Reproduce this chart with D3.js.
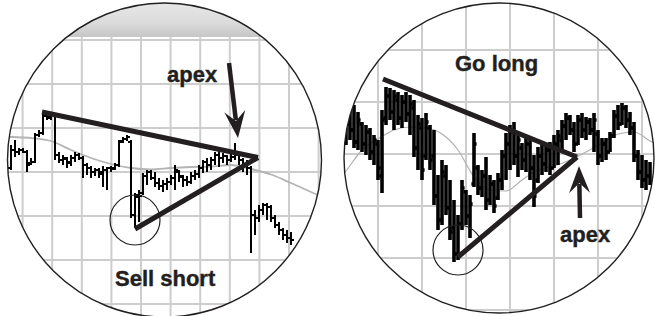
<!DOCTYPE html>
<html>
<head>
<meta charset="utf-8">
<script src="https://cdn.jsdelivr.net/npm/d3@7"></script>
<style>
  html, body { margin: 0; padding: 0; background: #fff; }
  svg { display: block; }
  text { font-family: "Liberation Sans", Arial, sans-serif; font-weight: bold; fill: #231f20; }
</style>
</head>
<body>
<div id="chart"></div>
<script>
// ---- left view: sell short (daily OHLC bars) ----
var leftOpen  = [76,85,84,85,84,78.5,79,92.5,93.5,102,101.5,102.5,82.5,80,80.5,79,81,82.5,81,77.5,76,74,75,74,75,76,76,77.5,89.5,90.5,89,52.5,61.5,63.5,72,74,71,68.5,67,68,69,71,74,71.5,70,69,72,73,76,79,77.5,80,82.5,81,82,80,81.5,82.5,80,77.5,76,52.5,51,55,57.5,56.5,51,47.5,45,42.5,41];
var leftHigh  = [87.5,90,86,86,85,81,93.5,95,104,103.5,104,103,84,82.5,81.5,82.5,84,83.5,82,78.5,77,76,76,77,76.5,77,78.5,90,91.5,92.5,90,63.5,65,73.5,75,75,74,71,70,71,72.5,77.5,75,72.5,72,74,75,77.5,80,81,81.5,84,85,83.5,82.5,83,88.5,83.5,81,80,77,55,57.5,58.5,58.5,57.5,52.5,49,46,45,44];
var leftLow   = [75,81.5,82.5,83.5,74,77.5,78.5,91.5,92.5,100,100,80,78.5,77.5,76,77,79,80,71,72.5,71,72,71,66.5,65,74,75,76.5,88.5,89.5,51,46,49,62.5,67.5,70,66.5,65,64,65,67.5,65,69,66.5,67,68,70,71,73.5,74,75,77.5,76.5,78.5,77.5,79,80,77.5,74,72.5,33.5,42.5,49,52.5,50,49,46,42.5,40,38.5,37.5];
var leftClose = [85,84,85,84,77.5,79,92.5,93.5,102.5,101,103,82.5,80,81,78.5,81,82.5,81,77.5,76,74,75,73,75,76,75.5,77.5,89,90.5,91.5,52.5,62.5,62,72,74,71,68.5,67,68,69,71,75,72,70,69,72,73,76,79,77.5,80,82.5,81,82,80,81.5,82.5,80,77.5,76,52.5,51,55,57.5,56.5,51,47.5,45,42.5,41,40];
// moving average, one value every 5 bars starting at bar -5
var leftAvg = [92,91.5,91,89.5,85,81,78,76,75.25,76,76.5,76.75,77.5,75.5,72.75,68.5,64,59.5];
var leftUpperLine = [[7.75, 104], [61.75, 81.25]];
var leftLowerLine = [[31, 45.5], [61.75, 81.25]];
var leftLowPoint = [31, 50];
var leftGridPrices = [8, 30, 52, 74, 96, 118, 140];

// ---- right view: go long ----
var rightOpen  = [92,98,95,89,98,88,94,84,88,72,101,112,104,110,101,109,103,106,86,96,82,96,82,62,50,72,56,46,33,48,64,52,68,76,66,72,60,68,61,70,82,88,94,82,86,80,88,76,70,82,78,85,76,88,90,97,101,95,88,100,95,99,95,93,82,88,84,92,102,98,106,100,96,82,74,70,72];
var rightHigh  = [102.5,105,107.5,104,99,97.5,96,92.5,90,105,116.5,116,115,114,112.5,114,112.5,110,102.5,101,103.5,97.5,95,72.5,80,77.5,70,60,52.5,70,65,62.5,93.5,77.5,75,81.5,72.5,70,73.5,85,93.5,97.5,99,93.5,88.5,91.5,90,82.5,86.5,88.5,87.5,89,92.5,95,100,103.5,102.5,99,102.5,103.5,101.5,101,103.5,95,91,91,94,105,107.5,108.5,107.5,104,99,85,82.5,80,79];
var rightLow   = [87.5,90,86,85,84,82.5,80,77.5,70,63.5,97.5,100,95,97.5,96,99,92.5,81.5,75,70,80,75,57.5,45,47.5,52.5,40,29,30,45,47.5,41,66.5,62.5,61.5,55,57.5,53.5,60,65,70,75,77.5,71.5,75,74,70,56.5,68.5,72.5,74,72.5,76,77.5,85,90,92.5,84,87.5,91,90,92.5,84,77.5,79,80,84,91,95,97.5,96,92.5,79,70,66,65,67.5];
var rightClose = [98,95,89,100,88,94,84,90,76,100,112,104,112,101,109,103,108,86,98,75,99,80,62,50,74,56,44,33,48,66,52,58,88,66,72,60,68,57,70,82,88,94,82,90,80,88,76,62,82,78,85,76,88,92,97,101,95,88,100,95,99,95,100,82,88,84,92,102,98,106,100,96,82,74,70,72,69];
// moving average, one value every 4 bars starting at bar -4
var rightAvg = [65,74.5,85,90.5,95,96.5,96,93,85,71.5,65,64.5,70,75,77,80,84,88.5,93,94,89.5,86];
var rightUpperLine = [[9.25, 120.5], [57.75, 81.5]];
var rightLowerLine = [[28, 31.5], [57.75, 81.5]];
var rightLowPoint = [28, 35];
var rightGridPrices = [5, 31, 57, 83, 109, 135, 161];

var width = 655, height = 316;
var ink = '#231f20';

var svg = d3.select('#chart').append('svg').attr('width', width).attr('height', height);
var defs = svg.append('defs');

var band = defs.append('linearGradient').attr('id', 'band').attr('x1', 0).attr('y1', 0).attr('x2', 0).attr('y2', 1);
band.append('stop').attr('offset', '0%').attr('stop-color', '#e8e8e8');
band.append('stop').attr('offset', '60%').attr('stop-color', '#dcdcdc');
band.append('stop').attr('offset', '100%').attr('stop-color', '#c6c6c6');

var y = d3.scaleLinear().domain([0, 160]).range([320, 0]);

function drawPanel(p) {
  var clipId = 'clip-' + p.name;
  defs.append('clipPath').attr('id', clipId)
    .append('circle').attr('cx', p.cx).attr('cy', p.cy).attr('r', p.r);

  var x = p.x;
  var g = svg.append('g').attr('clip-path', 'url(#' + clipId + ')');

  g.append('circle').attr('cx', p.cx).attr('cy', p.cy).attr('r', p.r).attr('fill', '#fff');

  // grid
  g.selectAll('line.gx').data(p.gridIdx).enter().append('line')
    .attr('x1', function(d) { return x(d); }).attr('x2', function(d) { return x(d); })
    .attr('y1', 0).attr('y2', height)
    .attr('stroke', '#cdcdcd').attr('stroke-width', 2);
  g.selectAll('line.gy').data(p.gridPrices).enter().append('line')
    .attr('x1', 0).attr('x2', width)
    .attr('y1', function(d) { return y(d); }).attr('y2', function(d) { return y(d); })
    .attr('stroke', '#cdcdcd').attr('stroke-width', 2);

  if (p.band) {
    g.append('rect').attr('x', p.cx - p.r).attr('y', 0).attr('width', 2 * p.r).attr('height', p.band)
      .attr('fill', 'url(#band)');
  }

  // moving average
  var avgLine = d3.line()
    .x(function(d, i) { return x(p.avgStart + i * p.avgStep); })
    .y(function(d) { return y(d); })
    .curve(d3.curveMonotoneX);
  g.append('path').attr('d', avgLine(p.avg))
    .attr('fill', 'none').attr('stroke', p.avgColor).attr('stroke-width', p.avgWidth);

  // bars
  var bars = g.selectAll('g.bar').data(p.high).enter().append('g');
  bars.append('line')
    .attr('x1', function(d, i) { return x(i); }).attr('x2', function(d, i) { return x(i); })
    .attr('y1', function(d, i) { return y(p.high[i]); }).attr('y2', function(d, i) { return y(p.low[i]); })
    .attr('stroke', '#000').attr('stroke-width', p.barWidth);
  bars.append('line')
    .attr('x1', function(d, i) { return x(i) - p.tick; }).attr('x2', function(d, i) { return x(i); })
    .attr('y1', function(d, i) { return y(p.open[i]); }).attr('y2', function(d, i) { return y(p.open[i]); })
    .attr('stroke', '#000').attr('stroke-width', p.tickWidth);
  bars.append('line')
    .attr('x1', function(d, i) { return x(i); }).attr('x2', function(d, i) { return x(i) + p.tick; })
    .attr('y1', function(d, i) { return y(p.close[i]); }).attr('y2', function(d, i) { return y(p.close[i]); })
    .attr('stroke', '#000').attr('stroke-width', p.tickWidth);

  // triangle
  var trend = d3.line().x(function(d) { return x(d[0]); }).y(function(d) { return y(d[1]); });
  [p.upper, p.lower].forEach(function(seg) {
    g.append('path').attr('d', trend(seg))
      .attr('stroke', ink).attr('stroke-width', 5).attr('fill', 'none');
  });

  g.append('circle').attr('cx', x(p.lowPoint[0])).attr('cy', y(p.lowPoint[1])).attr('r', 25)
    .attr('fill', 'none').attr('stroke', ink).attr('stroke-width', 1.2);

  // arrow to the apex
  var a = p.arrow;
  var dx = a.x2 - a.x1, dy = a.y2 - a.y1, len = Math.sqrt(dx * dx + dy * dy);
  var ux = dx / len, uy = dy / len, nx = -uy, ny = ux;
  g.append('line').attr('x1', a.x1).attr('y1', a.y1)
    .attr('x2', a.x2 - ux * 18).attr('y2', a.y2 - uy * 18)
    .attr('stroke', ink).attr('stroke-width', 4.5);
  var head = [
    [a.x2, a.y2],
    [a.x2 - ux * 27 + nx * 10.5, a.y2 - uy * 27 + ny * 10.5],
    [a.x2 - ux * 17, a.y2 - uy * 17],
    [a.x2 - ux * 27 - nx * 10.5, a.y2 - uy * 27 - ny * 10.5]
  ];
  g.append('path').attr('d', 'M' + head.join('L') + 'Z').attr('fill', ink);

  p.labels.forEach(function(l) {
    g.append('text').attr('x', l.x).attr('y', l.y).attr('font-size', 22)
      .attr('stroke', ink).attr('stroke-width', 0.4).text(l.text);
  });

  svg.append('circle').attr('cx', p.cx).attr('cy', p.cy).attr('r', p.r)
    .attr('fill', 'none').attr('stroke', ink).attr('stroke-width', 1.4);
}

drawPanel({
  name: 'left', cx: 164.5, cy: 160, r: 157,
  x: d3.scaleLinear().domain([0, leftHigh.length - 1]).range([11, 291]),
  open: leftOpen, high: leftHigh, low: leftLow, close: leftClose,
  avg: leftAvg, avgStart: -5, avgStep: 5, avgColor: '#b4b4b4', avgWidth: 1.8,
  gridIdx: d3.range(2.9, 82, 7.4), gridPrices: leftGridPrices, band: 37,
  barWidth: 2, tick: 3, tickWidth: 2,
  upper: leftUpperLine, lower: leftLowerLine, lowPoint: leftLowPoint,
  arrow: { x1: 229, y1: 63, x2: 238, y2: 138 },
  labels: [{ text: 'apex', x: 167, y: 82 }, { text: 'Sell short', x: 115, y: 286 }]
});

drawPanel({
  name: 'right', cx: 499, cy: 158, r: 155,
  x: d3.scaleLinear().domain([0, rightHigh.length - 1]).range([346, 650]),
  open: rightOpen, high: rightHigh, low: rightLow, close: rightClose,
  avg: rightAvg, avgStart: -4, avgStep: 4, avgColor: '#b0b0b0', avgWidth: 1.2,
  gridIdx: d3.range(-3, 80, 11), gridPrices: rightGridPrices, band: 0,
  barWidth: 3.6, tick: 2.6, tickWidth: 3.5,
  upper: rightUpperLine, lower: rightLowerLine, lowPoint: rightLowPoint,
  arrow: { x1: 580, y1: 218, x2: 579, y2: 166 },
  labels: [{ text: 'Go long', x: 455, y: 71 }, { text: 'apex', x: 560, y: 242 }]
});
</script>
</body>
</html>
